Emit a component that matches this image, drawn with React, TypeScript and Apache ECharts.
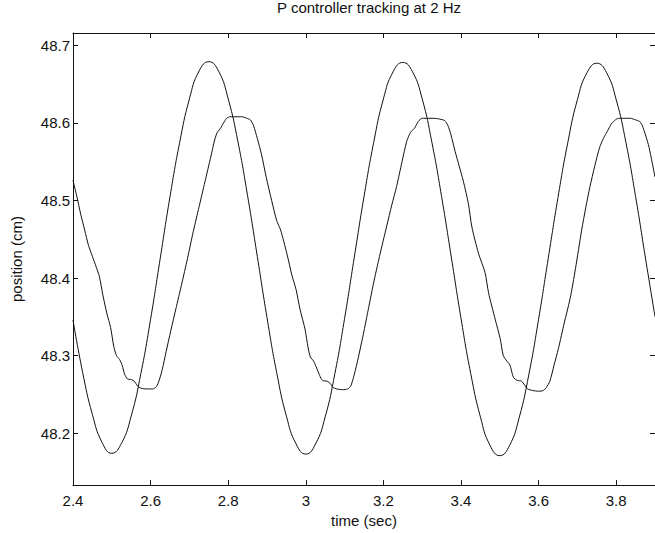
import React, { useEffect, useRef } from "react";
import * as echarts from "echarts";

const titleText = "P controller tracking at 2 Hz";
const xName = "time (sec)";
const yName = "position (cm)";

// reference (commanded) trajectory
const refTime = [
  2.4, 2.425, 2.45, 2.475, 2.5, 2.525, 2.55, 2.575, 2.6, 2.625, 2.65, 2.675, 2.7, 2.725, 2.75, 2.775, 2.8, 2.825, 2.85, 2.875,
  2.9, 2.925, 2.95, 2.975, 3.0, 3.025, 3.05, 3.075, 3.1, 3.125, 3.15, 3.175, 3.2, 3.225, 3.25, 3.275, 3.3, 3.325, 3.35, 3.375,
  3.4, 3.425, 3.45, 3.475, 3.5, 3.525, 3.55, 3.575, 3.6, 3.625, 3.65, 3.675, 3.7, 3.725, 3.75, 3.775, 3.8, 3.825, 3.85, 3.875, 3.9,
];
const refPos = [
  48.346, 48.278, 48.224, 48.188, 48.174, 48.187, 48.222, 48.277, 48.347, 48.426, 48.505, 48.575, 48.631, 48.667, 48.679, 48.667, 48.631, 48.576, 48.506, 48.428,
  48.349, 48.278, 48.222, 48.186, 48.173, 48.186, 48.221, 48.277, 48.348, 48.427, 48.505, 48.575, 48.631, 48.666, 48.678, 48.666, 48.631, 48.575, 48.505, 48.427,
  48.348, 48.277, 48.221, 48.184, 48.171, 48.184, 48.22, 48.276, 48.347, 48.426, 48.504, 48.574, 48.63, 48.665, 48.677, 48.665, 48.63, 48.575, 48.505, 48.427, 48.35,
];

const respTime = [
  2.4, 2.41, 2.42, 2.43, 2.44, 2.45, 2.46, 2.468, 2.477, 2.487, 2.497, 2.505, 2.512, 2.52, 2.527, 2.533, 2.54, 2.55, 2.558, 2.566,
  2.575, 2.59, 2.605, 2.615, 2.622, 2.63, 2.64, 2.652, 2.665, 2.68, 2.695, 2.71, 2.725, 2.74, 2.755, 2.765, 2.772, 2.78, 2.788, 2.796,
  2.805, 2.82, 2.835, 2.848, 2.857, 2.865, 2.875, 2.886, 2.898, 2.912, 2.925, 2.935, 2.951, 2.964, 2.975, 2.985, 2.998, 3.006, 3.012, 3.02,
  3.028, 3.036, 3.043, 3.055, 3.063, 3.07, 3.08, 3.095, 3.108, 3.116, 3.123, 3.132, 3.148, 3.162, 3.174, 3.19, 3.208, 3.222, 3.234, 3.248,
  3.26, 3.27, 3.28, 3.29, 3.3, 3.315, 3.33, 3.345, 3.358, 3.366, 3.374, 3.385, 3.395, 3.406, 3.419, 3.428, 3.445, 3.462, 3.471, 3.488,
  3.501, 3.509, 3.518, 3.526, 3.535, 3.545, 3.556, 3.564, 3.572, 3.585, 3.6, 3.612, 3.62, 3.629, 3.64, 3.651, 3.666, 3.681, 3.695, 3.711,
  3.722, 3.732, 3.745, 3.757, 3.767, 3.778, 3.788, 3.798, 3.806, 3.82, 3.836, 3.85, 3.86, 3.866, 3.872, 3.883, 3.89, 3.9,
];
const respPos = [
  48.526, 48.505, 48.482, 48.462, 48.442, 48.428, 48.414, 48.402, 48.378, 48.355, 48.336, 48.312, 48.3, 48.295, 48.287, 48.276, 48.27, 48.269, 48.267, 48.261,
  48.258, 48.257, 48.257, 48.26, 48.268, 48.282, 48.305, 48.332, 48.36, 48.392, 48.425, 48.46, 48.492, 48.524, 48.556, 48.578, 48.588, 48.593, 48.6, 48.606,
  48.608, 48.608, 48.608, 48.606, 48.604, 48.597, 48.58, 48.559, 48.53, 48.5, 48.474, 48.462, 48.432, 48.404, 48.385, 48.36, 48.334, 48.31, 48.298, 48.293,
  48.284, 48.274, 48.268, 48.267, 48.264, 48.259, 48.257, 48.256, 48.257, 48.261, 48.272, 48.29, 48.327, 48.362, 48.392, 48.428, 48.466, 48.495, 48.518, 48.55,
  48.576, 48.588, 48.593, 48.602, 48.606, 48.606, 48.606, 48.605, 48.603, 48.597, 48.585, 48.563, 48.545, 48.525, 48.496, 48.466, 48.432, 48.407, 48.381, 48.347,
  48.322, 48.3, 48.293, 48.288, 48.272, 48.268, 48.267, 48.262, 48.257, 48.255, 48.254, 48.255, 48.259, 48.267, 48.288, 48.309, 48.342, 48.373, 48.412, 48.462,
  48.492, 48.517, 48.545, 48.568, 48.58, 48.59, 48.599, 48.604, 48.606, 48.606, 48.606, 48.604, 48.602, 48.598, 48.59, 48.572, 48.556, 48.53,
];

const xMin = 2.4;
const xMax = 3.9;
const xStep = 0.2;
const yMin = 48.133;
const yMax = 48.716;

const FONT = "'Liberation Sans', Arial, Helvetica, sans-serif";
const INK = "#111";

export default function App() {
  const ref = useRef<HTMLDivElement>(null);
  useEffect(() => {
    if (!ref.current) return;
    const chart = echarts.init(ref.current, undefined, { renderer: "svg" });
    const refData = refTime.map((t, i) => [t, refPos[i]]);
    const respData = respTime.map((t, i) => [t, respPos[i]]);

    const xLabelFmt = (v: number) => {
      const r = Math.round(v * 10) / 10;
      if (Math.abs(v - xMax) < 1e-6) return "";
      return String(Number(r.toFixed(1)));
    };
    const yLabelFmt = (v: number) => {
      const r = Math.round(v * 10) / 10;
      if (Math.abs(v - r) > 1e-6) return "";
      return r.toFixed(1);
    };
    const tickStyle = { show: true, inside: true, length: 5, lineStyle: { color: INK, width: 1 } };
    const lineStyle = { show: true, lineStyle: { color: INK, width: 1 } };

    chart.setOption({
      animation: false,
      backgroundColor: "#fff",
      title: {
        text: titleText,
        left: 364,
        top: -5,
        textAlign: "center",
        textStyle: { fontFamily: FONT, fontSize: 15, fontWeight: "normal", color: INK },
      },
      grid: { left: 73, right: 0, top: 33, bottom: 42, containLabel: false },
      xAxis: [
        {
          type: "value",
          position: "bottom",
          min: xMin,
          max: xMax,
          interval: xStep,
          axisLine: lineStyle,
          axisTick: tickStyle,
          splitLine: { show: false },
          axisLabel: { fontFamily: FONT, fontSize: 15, color: INK, margin: 8, formatter: xLabelFmt, showMaxLabel: false },
          name: xName,
          nameLocation: "middle",
          nameGap: 23,
          nameTextStyle: { fontFamily: FONT, fontSize: 15, color: INK },
        },
        {
          type: "value",
          position: "top",
          min: xMin,
          max: xMax,
          interval: xStep,
          axisLine: lineStyle,
          axisTick: tickStyle,
          splitLine: { show: false },
          axisLabel: { show: false },
        },
      ],
      yAxis: [
        {
          type: "value",
          position: "left",
          min: yMin,
          max: yMax,
          splitNumber: 5,
          axisLine: lineStyle,
          axisTick: tickStyle,
          splitLine: { show: false },
          axisLabel: { fontFamily: FONT, fontSize: 15, color: INK, margin: 3, formatter: yLabelFmt, showMinLabel: false, showMaxLabel: false },
          name: yName,
          nameLocation: "middle",
          nameGap: 49,
          nameTextStyle: { fontFamily: FONT, fontSize: 15, color: INK },
        },
        {
          type: "value",
          position: "right",
          min: yMin,
          max: yMax,
          splitNumber: 5,
          axisLine: lineStyle,
          axisTick: tickStyle,
          splitLine: { show: false },
          axisLabel: { show: false },
        },
      ],
      series: [
        {
          type: "line",
          name: "reference",
          xAxisIndex: 0,
          yAxisIndex: 0,
          data: refData,
          showSymbol: false,
          smooth: 0.5,
          lineStyle: { color: INK, width: 1 },
        },
        {
          type: "line",
          name: "response",
          xAxisIndex: 0,
          yAxisIndex: 0,
          data: respData,
          showSymbol: false,
          smooth: 0.25,
          lineStyle: { color: INK, width: 1 },
        },
      ],
    });
    return () => chart.dispose();
  }, []);
  return (
    <div
      ref={ref}
      style={{ position: "fixed", left: 0, top: 0, width: 655, height: 533, background: "#fff" }}
    />
  );
}
